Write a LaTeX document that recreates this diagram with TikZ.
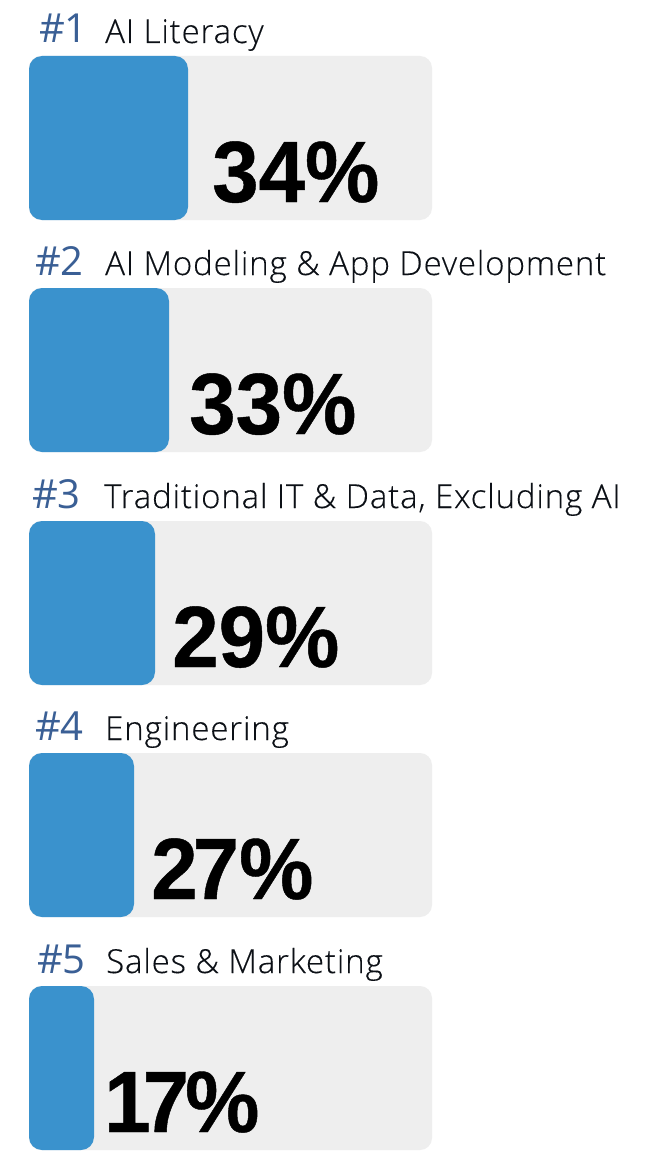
\documentclass[tikz,border=0pt]{standalone}
\usepackage{fontspec}
\setmainfont[UprightFont=* Light,LetterSpace=2.6,FakeBold=0.25]{Open Sans}
\newfontfamily\rankf{Open Sans}
\newfontfamily\numf[FakeStretch=0.96,FakeBold=0.5]{Liberation Sans Bold}
\definecolor{track}{HTML}{EEEEEE}
\definecolor{barc}{HTML}{3A92CD}
\definecolor{rankc}{HTML}{3A5F95}
\definecolor{labc}{HTML}{0C1016}
\tikzset{x=1pt,y=-1pt,
 trackbox/.style={fill=track,rounded corners=12pt},
 barbox/.style={fill=barc,rounded corners=13pt},
 rankt/.style={text=rankc,font=\rankf\fontsize{40}{40}\selectfont,anchor=base east,inner sep=0},
 labt/.style={text=labc,font=\fontsize{33}{33}\selectfont,anchor=base west,inner sep=0},
 pct/.style={text=black,font=\numf\fontsize{87}{87}\selectfont,anchor=base west,inner sep=0}}
\begin{document}
\begin{tikzpicture}
\useasboundingbox[fill=white] (0,0) rectangle (650,1153);
\foreach \top/\barr/\rank/\rx/\lx/\lab/\px/\pc [count=\i] in {
 56/188/\#1/88/105/AI Literacy/212/34\%,
 288/169/\#2/84/105/AI Modeling \& App Development/189/33\%,
 521/155/\#3/81/104/Traditional IT \& Data{,} Excluding AI/172/29\%,
 753/134/\#4/84/105/Engineering/151/2\kern-5pt 7\%,
 986/94/\#5/86/106/Sales \& Marketing/104/1\kern-8pt 7\kern-4pt\%}{
 \path[trackbox] (29,\top) rectangle (432,\top+164);
 \path[barbox] (29,\top) rectangle (\barr,\top+164);
 \node[rankt] (r\i) at (\rx,\top-13) {\rank};
 \node[labt] (l\i) at (\lx,\top-13) {\lab};
 \node[pct] (p\i) at (\px,\top+146) {\pc};
}
\end{tikzpicture}
\end{document}
